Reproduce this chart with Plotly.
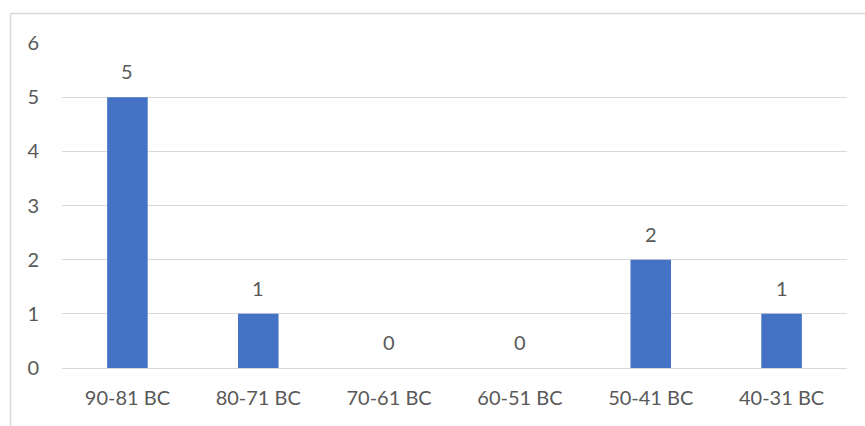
import plotly.graph_objects as go

periods = ["90-81 BC", "80-71 BC", "70-61 BC", "60-51 BC", "50-41 BC", "40-31 BC"]
counts = [5, 1, 0, 0, 2, 1]
y_ticks = [0, 1, 2, 3, 4, 5, 6]

BAR_COLOR = "#4472C4"
TEXT_COLOR = "#595959"
GRID_COLOR = "#D9D9D9"
FONT = "Lato, 'Open Sans', sans-serif"
FONT_SIZE = 20

fig = go.Figure(
    go.Bar(
        x=periods,
        y=counts,
        marker=dict(color=BAR_COLOR, line=dict(width=0)),
        width=0.31,
        hoverinfo="x+y",
    )
)

# value labels above each bar
for p, c in zip(periods, counts):
    fig.add_annotation(
        x=p, y=c, text=str(c), showarrow=False, yshift=26,
        font=dict(family=FONT, size=FONT_SIZE, color=TEXT_COLOR),
    )

# chart-area frame (top and left edges)
fig.add_shape(type="line", xref="paper", yref="paper",
              x0=-0.0656, x1=1.2, y0=1.0908, y1=1.0908,
              line=dict(color=GRID_COLOR, width=1.5))
fig.add_shape(type="line", xref="paper", yref="paper",
              x0=-0.0656, x1=-0.0656, y0=-0.3, y1=1.0908,
              line=dict(color=GRID_COLOR, width=1.5))

fig.update_layout(
    width=865, height=426,
    margin=dict(l=62, r=18, t=43, b=58),
    paper_bgcolor="white", plot_bgcolor="white",
    showlegend=False,
    font=dict(family=FONT, size=FONT_SIZE, color=TEXT_COLOR),
    xaxis=dict(
        showgrid=False, showline=False, zeroline=False,
        ticks="", ticklabelstandoff=16,
        tickfont=dict(family=FONT, size=FONT_SIZE, color=TEXT_COLOR),
    ),
    yaxis=dict(
        range=[0, 6], tickvals=y_ticks,
        showgrid=True, gridcolor=GRID_COLOR, gridwidth=1.3,
        zeroline=True, zerolinecolor=GRID_COLOR, zerolinewidth=1.3,
        showline=False, ticks="", ticklabelstandoff=22,
        tickfont=dict(family=FONT, size=FONT_SIZE, color=TEXT_COLOR),
    ),
)

fig.write_html("out.html")
